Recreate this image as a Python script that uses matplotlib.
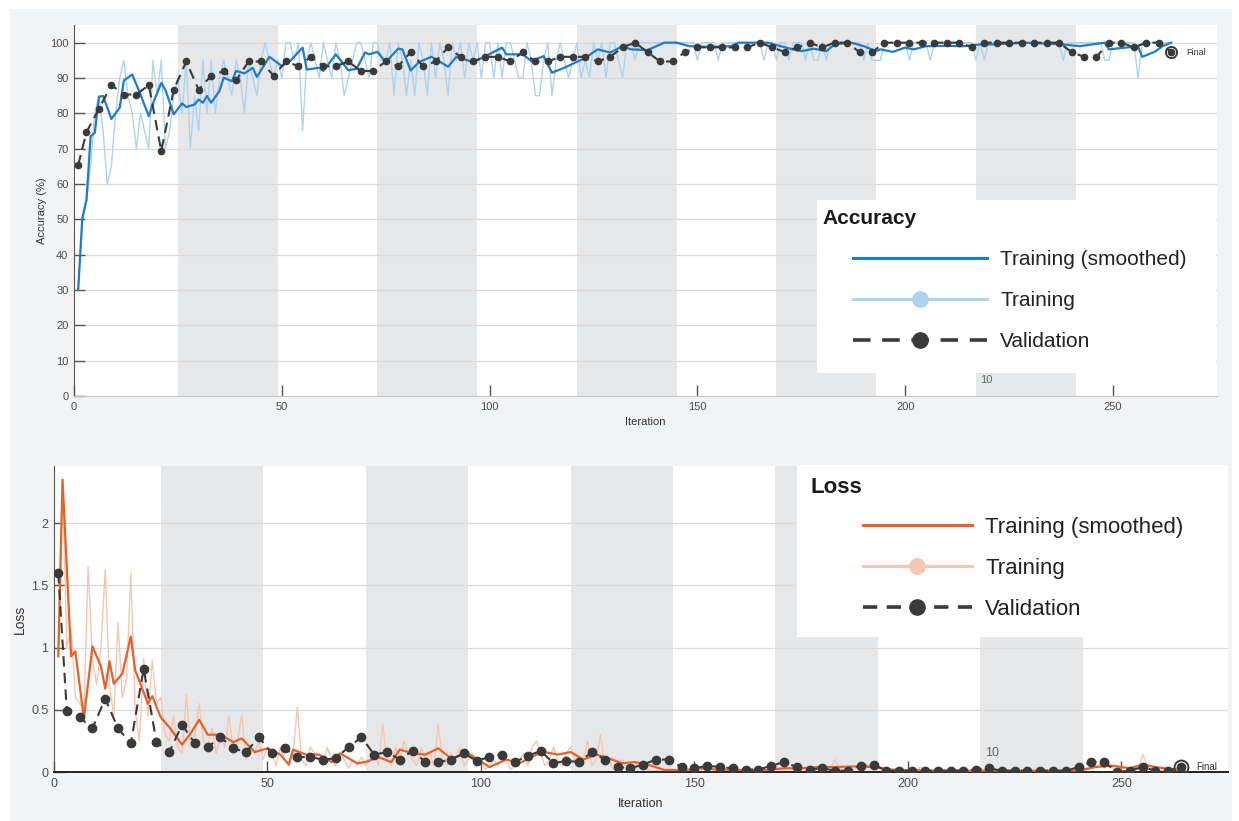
import numpy as np
import matplotlib
matplotlib.use("Agg")
import matplotlib.pyplot as plt
from matplotlib.lines import Line2D
from matplotlib.patches import Rectangle
from matplotlib.ticker import FuncFormatter

# ---- data ----
acc_train = [
    30, 50, 55, 65, 80, 85, 75, 60, 65, 80, 90, 95, 85, 80, 70, 80, 75, 70, 95, 85, 95, 70, 75, 85,
    90, 80, 95, 70, 85, 75, 95, 80, 95, 80, 90, 95, 90, 85, 95, 90, 80, 95, 90, 85, 95, 100, 95, 90,
    95, 90, 100, 100, 95, 100, 75, 95, 100, 95, 90, 100, 95, 90, 100, 95, 85, 90, 95, 100, 100, 95, 90, 100,
    100, 95, 95, 100, 85, 100, 95, 85, 95, 85, 100, 95, 85, 100, 90, 100, 95, 85, 100, 95, 100, 90, 100, 95,
    100, 90, 100, 100, 90, 100, 90, 100, 100, 95, 90, 90, 100, 95, 85, 85, 95, 100, 85, 95, 100, 95, 90, 95,
    100, 90, 95, 90, 100, 95, 100, 90, 100, 100, 95, 90, 100, 100, 95, 100, 100, 100, 100, 100, 100, 100, 100, 100,
    100, 100, 100, 100, 100, 95, 100, 100, 100, 100, 95, 100, 100, 100, 100, 100, 100, 100, 100, 100, 100, 95, 100, 100,
    95, 100, 100, 95, 100, 100, 100, 95, 100, 95, 95, 100, 95, 100, 100, 100, 100, 100, 100, 100, 100, 95, 100, 95,
    95, 95, 100, 100, 100, 100, 100, 100, 95, 100, 100, 100, 100, 95, 100, 100, 100, 100, 100, 100, 100, 100, 100, 100,
    95, 100, 95, 100, 100, 100, 100, 100, 100, 100, 100, 100, 100, 100, 100, 100, 100, 100, 100, 100, 100, 95, 100, 100,
    100, 100, 100, 100, 100, 100, 100, 95, 95, 100, 100, 100, 100, 100, 100, 90, 100, 100, 100, 100, 100, 100, 100, 100,
]
acc_smooth_it = [1, 2, 3, 4, 5, 6, 7, 9, 11, 12, 14, 16, 18, 19, 21, 22, 24, 26, 27, 29,
                 30, 31, 32, 33, 35, 36, 38, 39, 41, 43, 44, 47, 50, 52, 55, 56, 59, 60, 63, 66,
                 68, 70, 71, 73, 75, 78, 79, 81, 83, 86, 90, 92, 96, 99, 103, 104, 108, 110, 113, 115,
                 118, 123, 126, 129, 132, 134, 138, 142, 145, 148, 153, 158, 160, 167, 170, 173, 175, 178, 181, 183,
                 187, 190, 193, 194, 197, 200, 202, 205, 210, 214, 218, 221, 229, 238, 242, 248, 249, 253, 256, 257,
                 260, 262, 264]
acc_smooth = [30, 50.3, 55.5, 73.5, 74.5, 84.7, 84.9, 78.4, 81.6, 89.3, 91, 85.3, 79.2, 82.8, 88.6, 86.6, 79.7, 82.8, 81.8, 82.5,
              83.9, 83, 84.9, 83, 86.3, 90.1, 89.1, 92, 91.3, 92.9, 90.3, 96, 93.4, 94.8, 98.6, 92.4, 92.9, 92, 96.7, 92.2,
              92.6, 97.2, 96.7, 97.4, 94.5, 98.3, 98.1, 92.1, 94.5, 96, 93.2, 96, 94.5, 96.2, 98.6, 96.7, 96.7, 94.8, 96.2, 91.5,
              92.9, 95.7, 98.1, 97.2, 99, 98.1, 97.9, 100, 100, 99, 98.8, 99, 100, 100, 99, 98.1, 97.6, 98.3, 97.6, 99.5,
              100, 99, 97.6, 98.1, 97.4, 98.6, 98.1, 99, 99.1, 99, 99.5, 99.5, 100, 99.5, 99, 100, 98.1, 98.6, 99, 96,
              97.4, 99.1, 100]
val_it = [1] + list(range(3, 265, 3))
acc_val = [65.33, 74.67, 81.33, 88.0, 85.33, 85.33, 88.0, 69.33, 86.67, 94.67, 86.67, 90.67, 92.0, 89.33, 94.67, 94.67,
           90.67, 94.67, 93.33, 96.0, 93.33, 93.33, 94.67, 92.0, 92.0, 94.67, 93.33, 97.33, 93.33, 94.67, 98.67, 96.0,
           94.67, 96.0, 96.0, 94.67, 97.33, 94.67, 94.67, 96.0, 96.0, 96.0, 94.67, 96.0, 98.67, 100, 97.33, 94.67,
           94.67, 97.33, 98.67, 98.67, 98.67, 98.67, 98.67, 100, 98.67, 97.33, 98.67, 100, 98.67, 100, 100, 97.33,
           97.33, 100, 100, 100, 100, 100, 100, 100, 98.67, 100, 100, 100, 100, 100, 100, 100, 97.33, 96.0, 96.0,
           100, 100, 98.67, 100, 100, 97.33]

loss_train = [
    0.93, 2.35, 1.0, 1.15, 0.6, 0.55, 0.5, 1.65, 0.9, 0.7, 1.0, 1.63, 0.7, 0.45, 1.2, 0.6, 0.75, 1.6, 0.5, 0.25, 0.91, 0.45, 0.9, 0.55,
    0.6, 0.3, 0.25, 0.45, 0.2, 0.15, 0.62, 0.2, 0.3, 0.55, 0.25, 0.2, 0.35, 0.15, 0.3, 0.2, 0.45, 0.15, 0.25, 0.46, 0.1, 0.2, 0.15, 0.25,
    0.1, 0.2, 0.15, 0.05, 0.2, 0.1, 0.05, 0.15, 0.52, 0.1, 0.05, 0.2, 0.15, 0.1, 0.05, 0.2, 0.1, 0.05, 0.15, 0.1, 0.03, 0.1, 0.05, 0.12,
    0.05, 0.1, 0.15, 0.05, 0.38, 0.1, 0.05, 0.2, 0.1, 0.25, 0.15, 0.1, 0.05, 0.2, 0.1, 0.15, 0.05, 0.38, 0.1, 0.05, 0.15, 0.1, 0.2, 0.05,
    0.1, 0.15, 0.05, 0.1, 0.02, 0.05, 0.1, 0.05, 0.15, 0.1, 0.02, 0.05, 0.1, 0.15, 0.05, 0.2, 0.25, 0.15, 0.05, 0.1, 0.2, 0.1, 0.05, 0.15,
    0.2, 0.1, 0.05, 0.1, 0.25, 0.05, 0.1, 0.3, 0.05, 0.1, 0.02, 0.05, 0.1, 0.05, 0.02, 0.08, 0.03, 0.05, 0.02, 0.01, 0.01, 0.01, 0.02, 0.01,
    0.01, 0.02, 0.01, 0.03, 0.01, 0.05, 0.01, 0.02, 0.01, 0.03, 0.01, 0.01, 0.02, 0.01, 0.01, 0.01, 0.02, 0.01, 0.01, 0.02, 0.01, 0.04, 0.01, 0.02,
    0.05, 0.02, 0.01, 0.03, 0.02, 0.01, 0.02, 0.01, 0.02, 0.03, 0.01, 0.05, 0.02, 0.04, 0.1, 0.02, 0.03, 0.02, 0.01, 0.04, 0.02, 0.03, 0.06, 0.02,
    0.04, 0.01, 0.01, 0.02, 0.01, 0.01, 0.01, 0.02, 0.01, 0.01, 0.04, 0.01, 0.01, 0.01, 0.02, 0.01, 0.01, 0.01, 0.01, 0.02, 0.01, 0.01, 0.01, 0.01,
    0.02, 0.01, 0.01, 0.01, 0.01, 0.01, 0.01, 0.01, 0.01, 0.01, 0.01, 0.01, 0.01, 0.01, 0.01, 0.01, 0.01, 0.01, 0.01, 0.01, 0.01, 0.02, 0.01, 0.01,
    0.01, 0.02, 0.03, 0.05, 0.06, 0.03, 0.08, 0.04, 0.01, 0.02, 0.01, 0.03, 0.05, 0.02, 0.14, 0.06, 0.03, 0.02, 0.01, 0.02, 0.01, 0.01, 0.02, 0.02,
]
loss_smooth_it = [1, 2, 4, 5, 7, 9, 11, 12, 13, 14, 16, 18, 19, 22, 23, 25, 27, 30, 32, 34,
                  36, 39, 42, 44, 47, 50, 53, 55, 56, 59, 62, 65, 67, 71, 73, 76, 79, 81, 84, 87,
                  90, 93, 97, 102, 106, 109, 113, 115, 118, 121, 124, 127, 130, 133, 136, 139, 143, 148, 151, 155,
                  163, 167, 171, 175, 179, 183, 188, 192, 196, 200, 210, 220, 230, 240, 244, 248, 252, 255, 258, 262,
                  264]
loss_smooth = [0.93, 2.35, 0.93, 0.97, 0.43, 1.01, 0.85, 0.67, 0.89, 0.71, 0.79, 1.09, 0.82, 0.55, 0.61, 0.44, 0.36, 0.22, 0.31, 0.42,
               0.30, 0.30, 0.24, 0.27, 0.16, 0.19, 0.14, 0.06, 0.18, 0.14, 0.14, 0.08, 0.15, 0.07, 0.08, 0.12, 0.08, 0.18, 0.15, 0.14,
               0.19, 0.11, 0.15, 0.04, 0.10, 0.07, 0.14, 0.16, 0.14, 0.16, 0.10, 0.14, 0.11, 0.07, 0.08, 0.06, 0.016, 0.016, 0.03, 0.02,
               0.016, 0.016, 0.03, 0.03, 0.04, 0.04, 0.045, 0.04, 0.02, 0.015, 0.01, 0.01, 0.01, 0.012, 0.04, 0.05, 0.03, 0.06, 0.04, 0.02,
               0.02]
loss_val = [1.60, 0.49, 0.44, 0.35, 0.59, 0.35, 0.23, 0.83, 0.24, 0.16, 0.38, 0.23, 0.20, 0.28, 0.19, 0.16,
            0.28, 0.15, 0.19, 0.12, 0.12, 0.10, 0.11, 0.20, 0.28, 0.14, 0.16, 0.10, 0.17, 0.08, 0.08, 0.10,
            0.15, 0.09, 0.12, 0.14, 0.08, 0.13, 0.17, 0.07, 0.09, 0.08, 0.16, 0.10, 0.04, 0.03, 0.06, 0.10,
            0.10, 0.04, 0.03, 0.05, 0.04, 0.03, 0.02, 0.02, 0.05, 0.08, 0.04, 0.02, 0.03, 0.01, 0.01, 0.05,
            0.06, 0.01, 0.01, 0.01, 0.01, 0.01, 0.01, 0.01, 0.02, 0.03, 0.01, 0.01, 0.01, 0.01, 0.01, 0.01,
            0.04, 0.08, 0.08, 0.00, 0.01, 0.04, 0.01, 0.01, 0.04]

epoch_shade = [(25, 49), (73, 97), (121, 145), (169, 193), (217, 241)]
epoch_label = "10"
xticks = [0, 50, 100, 150, 200, 250]

W, H = 1239, 821
BLUE, LBLUE = "#1f7ccc", "#add3f1"
ORANGE, LORANGE = "#e8602c", "#f6c6b0"
DARK = "#3a3a3a"
SHADE = "#e6e7e8"
FONT = "Liberation Sans"
plt.rcParams["font.family"] = [FONT, "DejaVu Sans"]


def fx(x):
    return x / W


def fy(y):
    return 1 - y / H


def style_axes(ax, ylim, yticks, fs, bottom_col):
    ax.set_xlim(0, 275)
    ax.set_ylim(*ylim)
    ax.set_xticks(xticks)
    ax.set_yticks(yticks)
    ax.yaxis.set_major_formatter(FuncFormatter(lambda v, p: "%g" % v))
    ax.tick_params(direction="in", length=8, width=1, colors="#555555",
                   labelsize=fs, labelcolor="#4d4d4d", pad=4)
    ax.spines["top"].set_visible(False)
    ax.spines["right"].set_visible(False)
    ax.spines["left"].set_color("#555555")
    ax.spines["bottom"].set_color(bottom_col)
    ax.yaxis.grid(True, color="#dcdcdc", lw=0.9)
    ax.set_axisbelow(True)
    for a, b in epoch_shade:
        ax.axvspan(a, b, color=SHADE, lw=0, zorder=0.2)


def legend_block(ax, title, handles, labels, box, title_xy, anchor, hl, pad, sp, fs):
    x0, y0, x1, y1 = box
    fig.patches.append(Rectangle((fx(x0), fy(y1)), fx(x1 - x0), (y1 - y0) / H,
                                 transform=fig.transFigure, facecolor="white",
                                 edgecolor="none", zorder=5))
    fig.text(fx(title_xy[0]), fy(title_xy[1]), title, fontsize=fs, fontweight="bold",
             va="center", ha="left", color="#1a1a1a", zorder=6)
    leg = fig.legend(handles, labels, loc="upper left",
                     bbox_to_anchor=(fx(anchor[0]), fy(anchor[1])),
                     frameon=False, borderpad=0, borderaxespad=0, handlelength=hl,
                     handletextpad=pad, labelspacing=sp, fontsize=fs, numpoints=1)
    leg.set_zorder(7)
    for t in leg.get_texts():
        t.set_color("#222222")


fig = plt.figure(figsize=(W / 100, H / 100), dpi=100, facecolor="white")
fig.patches.append(Rectangle((fx(10), 0), fx(1222), 812 / H, transform=fig.transFigure,
                             facecolor="#f2f3f5", edgecolor="none", zorder=-10))

it = np.arange(1, len(acc_train) + 1)

# ---- accuracy ----
ax1 = fig.add_axes([fx(74), fy(396), fx(1217 - 74), (396 - 25) / H])
style_axes(ax1, (0, 105), range(0, 101, 10), 8, "#c8c8c8")
ax1.plot(it, acc_train, color=LBLUE, lw=1.0, zorder=2)
ax1.plot(acc_smooth_it, acc_smooth, color=BLUE, lw=1.6, zorder=3)
ax1.plot(val_it, acc_val, color=DARK, lw=1.5, dashes=(5, 3), marker="o", ms=4.5, zorder=4)
ax1.plot(val_it[-1], acc_val[-1], "o", mfc="none", mec=DARK, ms=8, mew=1.4, zorder=4)
ax1.text(val_it[-1] + 3.5, acc_val[-1], "Final", fontsize=6.5, va="center", color="#333333")
ax1.text(epoch_shade[-1][0] + 1, 4.5, epoch_label, fontsize=8, color="#666666", va="center", zorder=8)
ax1.set_ylabel("Accuracy (%)", fontsize=8, color="#333333", labelpad=2)
ax1.set_xlabel("Iteration", fontsize=8, color="#333333", labelpad=4)

legend_block(ax1, "Accuracy",
             [Line2D([], [], color=BLUE, lw=2.2),
              Line2D([], [], color=LBLUE, lw=2.2, marker="o", ms=11),
              Line2D([], [], color=DARK, lw=2.6, dashes=(4.86, 3.22), marker="o", ms=11)],
             ["Training (smoothed)", "Training", "Validation"],
             (817, 200, 1216, 373), (822, 219), (853, 250), 6.44, 0.62, 1.06, 15)

# ---- loss ----
ax2 = fig.add_axes([fx(54), fy(772), fx(1228 - 54), (772 - 466) / H])
style_axes(ax2, (0, 2.46), [0, 0.5, 1, 1.5, 2], 9, "#222222")
ax2.spines["bottom"].set_linewidth(1.4)
ax2.plot(it, loss_train, color=LORANGE, lw=1.0, zorder=2)
ax2.plot(loss_smooth_it, loss_smooth, color=ORANGE, lw=1.6, zorder=3)
ax2.plot(val_it, loss_val, color=DARK, lw=1.5, dashes=(5, 3), marker="o", ms=6, zorder=4)
ax2.plot(val_it[-1], loss_val[-1], "o", mfc="none", mec=DARK, ms=10, mew=1.4, zorder=4)
ax2.text(val_it[-1] + 3.5, loss_val[-1], "Final", fontsize=7, va="center", color="#333333")
ax2.text(epoch_shade[-1][0] + 1, 0.15, epoch_label, fontsize=9, color="#666666", va="center", zorder=8)
ax2.set_ylabel("Loss", fontsize=10, color="#333333", labelpad=3)
ax2.set_xlabel("Iteration", fontsize=9, color="#333333", labelpad=6)

legend_block(ax2, "Loss",
             [Line2D([], [], color=ORANGE, lw=2.2),
              Line2D([], [], color=LORANGE, lw=2.2, marker="o", ms=11),
              Line2D([], [], color=DARK, lw=2.6, dashes=(3.94, 2.63), marker="o", ms=11)],
             ["Training (smoothed)", "Training", "Validation"],
             (797, 465, 1228, 637), (810, 487), (863, 517), 4.9, 0.59, 0.9, 16)

fig.savefig("out.png", dpi=100, facecolor=fig.get_facecolor())
